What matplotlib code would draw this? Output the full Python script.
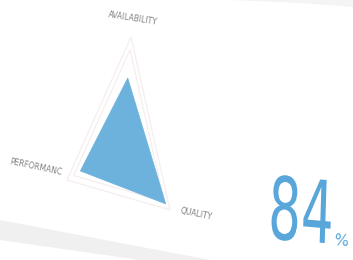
import numpy as np
import matplotlib
matplotlib.use("Agg")
import matplotlib.pyplot as plt
from matplotlib.patches import Polygon
from matplotlib.patheffects import AbstractPathEffect
from matplotlib.transforms import Affine2D

# Data
categories = ["AVAILABILITY", "PERFORMANC", "QUALITY"]
values = [0.61, 0.76, 0.91]
grid_levels = [0.88, 1.0]
oee_value = "84"
oee_unit = "%"

# Skewed (perspective) radar geometry in pixel-like data coordinates
center = np.array([122.7, 142.3])
axis_ends = np.array([[131, 37], [67, 180], [170, 210]], dtype=float)
directions = axis_ends - center


class Stretch(AbstractPathEffect):
    """Stretch text glyphs about an anchor in display space."""
    def __init__(self, anchor_fn, sx=1.0, sy=1.0):
        super().__init__()
        self.anchor_fn = anchor_fn
        self.sx, self.sy = sx, sy

    def draw_path(self, renderer, gc, tpath, affine, rgbFace=None):
        cx, cy = self.anchor_fn()
        extra = Affine2D().translate(-cx, -cy).scale(self.sx, self.sy).translate(cx, cy)
        renderer.draw_path(gc, tpath, affine + extra, rgbFace)


fig = plt.figure(figsize=(3.53, 2.60), dpi=100)
ax = fig.add_axes([0, 0, 1, 1])
ax.set_xlim(0, 353)
ax.set_ylim(260, 0)
ax.axis("off")

# background bands
ax.add_patch(Polygon([[0, 220], [0, 240], [140, 260], [210, 260]], closed=True,
                     facecolor="#f0f0f0", edgecolor="none", zorder=0))
ax.add_patch(Polygon([[230, 0], [353, 0], [353, 7], [300, 3]], closed=True,
                     facecolor="#f4f4f4", edgecolor="none", zorder=0))

# grid triangles
for lvl in grid_levels:
    pts = center + lvl * directions
    ax.add_patch(Polygon(pts, closed=True, facecolor="none",
                         edgecolor="#f6eeee", lw=0.9, zorder=1))

# data polygon
pts = center + np.array(values)[:, None] * directions
ax.add_patch(Polygon(pts, closed=True, facecolor="#6cb2dd",
                     edgecolor="#6cb2dd", lw=0.5, zorder=2))

# labels
label_pos = [(133, 18), (36, 167), (196, 214)]
label_rot = [-9, -12, -12]
for name, (x, y), r in zip(categories, label_pos, label_rot):
    ax.text(x, y, name, ha="center", va="center", rotation=r,
            fontsize=5.5, color="#808080", family=["Liberation Sans Narrow", "DejaVu Sans"],
            zorder=3)

# big value
big_anchor = (301, 217)
t = ax.text(big_anchor[0], big_anchor[1], oee_value, ha="center", va="center",
            fontsize=39, color="#58a6da",
            family=["Liberation Sans Narrow", "DejaVu Sans"],
            rotation=-3, zorder=3)
t.set_path_effects([Stretch(lambda: ax.transData.transform(big_anchor), 0.95, 1.6)])
ax.text(341, 241, oee_unit, ha="center", va="center", fontsize=11,
        color="#58a6da", family=["Liberation Sans Narrow", "DejaVu Sans"],
        rotation=-5, zorder=3)

fig.savefig("out.png", dpi=100)
